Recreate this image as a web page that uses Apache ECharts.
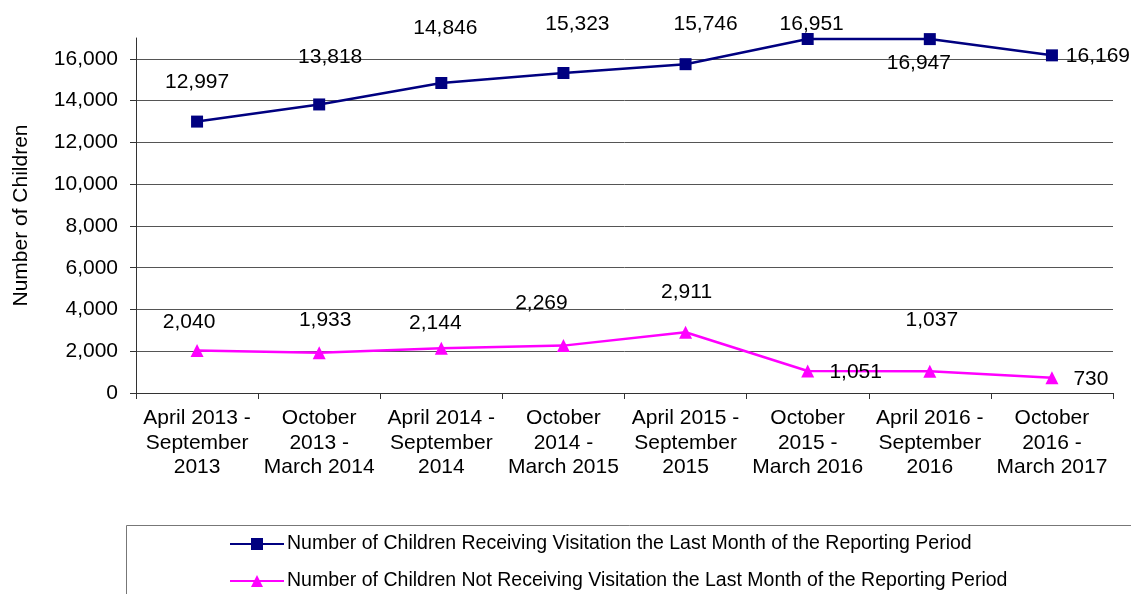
<!DOCTYPE html>
<html>
<head>
<meta charset="utf-8">
<script src="https://cdn.jsdelivr.net/npm/echarts@6/dist/echarts.min.js"></script>
<style>
  html, body { margin: 0; padding: 0; background: #fff; }
  #chart { width: 1131px; height: 594px; }
</style>
</head>
<body>
<div id="chart"></div>
<script>
  // categories (reporting periods)
  const periods = [
    'April 2013 -\nSeptember\n2013',
    'October\n2013 -\nMarch 2014',
    'April 2014 -\nSeptember\n2014',
    'October\n2014 -\nMarch 2015',
    'April 2015 -\nSeptember\n2015',
    'October\n2015 -\nMarch 2016',
    'April 2016 -\nSeptember\n2016',
    'October\n2016 -\nMarch 2017'
  ];
  const receiving = [12997, 13818, 14846, 15323, 15746, 16951, 16947, 16169];
  const notReceiving = [2040, 1933, 2144, 2269, 2911, 1051, 1037, 730];
  const yTicks = [0, 2000, 4000, 6000, 8000, 10000, 12000, 14000, 16000];

  const nameReceiving = 'Number of Children Receiving Visitation the Last Month of the Reporting Period';
  const nameNot = 'Number of Children Not Receiving Visitation the Last Month of the Reporting Period';

  // label nudges, like the hand-placed labels of the original
  const offReceiving = [[0, -39], [11, -47], [4, -55], [14, -49], [20, -40], [4, -15], [-11, 24], [46, 1]];
  const offNot = [[-8, -28], [6, -32], [-6, -25], [-22, -42], [1, -40], [48, 1], [2, -51], [39, 1]];

  const font = 'Liberation Sans, Arial, sans-serif';
  const fmt = v => v.toLocaleString('en-US');

  function withLabels(values, offsets) {
    return values.map((v, i) => ({
      value: v,
      label: { offset: offsets[i] }
    }));
  }

  let chart = echarts.init(document.getElementById('chart'));
  chart.setOption({
    animation: false,
    backgroundColor: '#fff',
    grid: { left: 136, right: 18, top: 38, bottom: 201 },
    xAxis: {
      type: 'category',
      data: periods,
      boundaryGap: true,
      axisLine: { lineStyle: { color: '#333', width: 1 } },
      axisTick: { show: true, length: 6, alignWithLabel: false, lineStyle: { color: '#333' } },
      axisLabel: {
        interval: 0,
        margin: 13,
        color: '#000',
        fontFamily: font,
        fontSize: 21,
        lineHeight: 24.5,
        align: 'center'
      }
    },
    yAxis: {
      type: 'value',
      min: 0,
      max: 17000,
      interval: 2000,
      name: 'Number of Children',
      nameLocation: 'middle',
      nameGap: 104,
      nameRotate: 90,
      nameTextStyle: { color: '#000', fontFamily: font, fontSize: 21 },
      axisLine: { show: true, lineStyle: { color: '#333', width: 1 } },
      axisTick: { show: true, length: 6, customValues: yTicks, lineStyle: { color: '#333' } },
      axisLabel: {
        customValues: yTicks,
        margin: 18,
        color: '#000',
        fontFamily: font,
        fontSize: 21,
        formatter: v => fmt(v)
      },
      splitLine: { show: true, showMinLine: false, lineStyle: { color: '#555', width: 1 } }
    },
    legend: {
      orient: 'vertical',
      left: 229,
      top: 534,
      padding: 0,
      itemWidth: 54,
      itemHeight: 15,
      itemGap: 17,
      textStyle: { color: '#000', fontFamily: font, fontSize: 19.5, lineHeight: 18, padding: [0, 0, 0, -2] },
      data: [nameReceiving, nameNot]
    },
    graphic: [{
      type: 'rect',
      left: 124,
      top: 523,
      shape: { width: 1030, height: 90 },
      style: { fill: 'none', stroke: '#777', lineWidth: 1 },
      silent: true
    }],
    series: [
      {
        name: nameReceiving,
        type: 'line',
        data: withLabels(receiving, offReceiving),
        symbol: 'rect',
        symbolSize: 12,
        color: '#000080',
        lineStyle: { color: '#000080', width: 2.5 },
        itemStyle: { color: '#000080' },
        label: {
          show: true,
          position: 'inside',
          color: '#000',
          fontFamily: font,
          fontSize: 21,
          formatter: p => fmt(p.value)
        }
      },
      {
        name: nameNot,
        type: 'line',
        data: withLabels(notReceiving, offNot),
        symbol: 'triangle',
        symbolSize: 13,
        color: '#ff00ff',
        lineStyle: { color: '#ff00ff', width: 2.5 },
        itemStyle: { color: '#ff00ff' },
        label: {
          show: true,
          position: 'inside',
          color: '#000',
          fontFamily: font,
          fontSize: 21,
          formatter: p => fmt(p.value)
        }
      }
    ]
  });
</script>
</body>
</html>
